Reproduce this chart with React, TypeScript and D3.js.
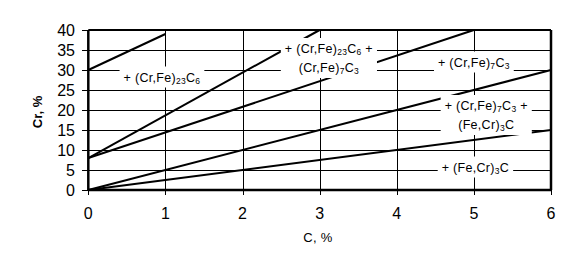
import React, { useEffect, useRef } from "react";
import * as d3 from "d3";

// Boundary lines: C (%) endpoints and Cr (%) endpoints
const lineC: number[][] = [
  [0, 1],
  [0, 3],
  [0, 5],
  [0, 6],
  [0, 6],
];
const lineCr: number[][] = [
  [30, 39],
  [8, 40],
  [8, 40],
  [0, 30],
  [0, 15],
];

const xTicks = [0, 1, 2, 3, 4, 5, 6];
const yTicks = [0, 5, 10, 15, 20, 25, 30, 35, 40];

// Phase-region labels: parts as [text, isSubscript]
type Part = [string, boolean];
const labelLines: Part[][][] = [
  [[["+ (Cr,Fe)", false], ["23", true], ["C", false], ["6", true]]],
  [
    [["+ (Cr,Fe)", false], ["23", true], ["C", false], ["6", true], [" +", false]],
    [["(Cr,Fe)", false], ["7", true], ["C", false], ["3", true]],
  ],
  [[["+ (Cr,Fe)", false], ["7", true], ["C", false], ["3", true]]],
  [
    [["+ (Cr,Fe)", false], ["7", true], ["C", false], ["3", true], [" +", false]],
    [["(Fe,Cr)", false], ["3", true], ["C", false]],
  ],
  [[["+ (Fe,Cr)", false], ["3", true], ["C", false]]],
];
const labelC = [0.955, 3.12, 5.0, 5.16, 5.02];
const labelCr = [28.25, 33, 32, 18.75, 5.75];

const W = 566;
const H = 264;

export default function App() {
  const ref = useRef<SVGSVGElement>(null);

  useEffect(() => {
    const svg = d3.select(ref.current);
    svg.selectAll("*").remove();
    const x = d3.scaleLinear().domain([0, 6]).range([88.3, 551]);
    const y = d3.scaleLinear().domain([0, 40]).range([190, 30]);
    const font = "'Liberation Sans', Arial, sans-serif";

    svg.append("rect").attr("width", W).attr("height", H).attr("fill", "#fff");

    // gridlines
    const g = svg.append("g").attr("stroke", "#000").attr("stroke-width", 1).attr("shape-rendering", "crispEdges");
    xTicks.forEach((t) => {
      g.append("line").attr("x1", Math.round(x(t)) + 0.5).attr("x2", Math.round(x(t)) + 0.5)
        .attr("y1", y(40)).attr("y2", y(0) + 5);
    });
    yTicks.forEach((t) => {
      g.append("line").attr("y1", y(t) + 0.5).attr("y2", y(t) + 0.5)
        .attr("x1", x(0) - 6).attr("x2", x(6));
    });

    // data lines
    const lineGen = d3.line<[number, number]>().x((d) => x(d[0])).y((d) => y(d[1]));
    lineC.forEach((cs, i) => {
      const pts: [number, number][] = cs.map((c, j) => [c, lineCr[i][j]]);
      svg.append("path").attr("d", lineGen(pts)).attr("stroke", "#000").attr("stroke-width", 2).attr("fill", "none");
    });

    // labels with white background
    labelLines.forEach((lines, i) => {
      const cx = x(labelC[i]);
      const cy = y(labelCr[i]);
      const lg = svg.append("g");
      const rect = lg.append("rect").attr("fill", "#fff");
      const n = lines.length;
      const lh = 19;
      const tg = lg.append("g");
      lines.forEach((parts, k) => {
        const ty = cy + (k - (n - 1) / 2) * lh + 4.5;
        const text = tg.append("text").attr("x", cx).attr("y", ty).attr("text-anchor", "middle")
          .attr("font-family", font).attr("font-size", 12.5).attr("letter-spacing", 0.3).attr("fill", "#000");
        parts.forEach(([s, sub], idx) => {
          const prev = idx > 0 ? parts[idx - 1] : null;
          let dy = 0;
          if (sub && !(prev && prev[1])) dy = 2;
          if (!sub && prev && prev[1]) dy = -2;
          const ts = text.append("tspan").text(s).attr("dy", dy);
          if (sub) ts.attr("font-size", 8.5);
        });
      });
      const bb = (tg.node() as SVGGElement).getBBox();
      rect.attr("x", bb.x - 4).attr("y", bb.y - 4).attr("width", bb.width + 8).attr("height", bb.height + 6);
    });

    // frame / axes
    const ax = svg.append("g").attr("stroke", "#000").attr("fill", "none");
    ax.append("line").attr("x1", x(0)).attr("x2", x(6)).attr("y1", y(0)).attr("y2", y(0)).attr("stroke-width", 2.5);
    ax.append("line").attr("x1", x(0)).attr("x2", x(0)).attr("y1", y(0)).attr("y2", y(40)).attr("stroke-width", 2.5);
    ax.append("line").attr("x1", x(0)).attr("x2", x(6)).attr("y1", y(40)).attr("y2", y(40)).attr("stroke-width", 2);
    ax.append("line").attr("x1", x(6)).attr("x2", x(6)).attr("y1", y(0)).attr("y2", y(40)).attr("stroke-width", 2.5);

    // tick labels
    xTicks.forEach((t) => {
      svg.append("text").attr("x", x(t)).attr("y", 219).attr("text-anchor", "middle")
        .attr("font-family", font).attr("font-size", 16).text(String(t));
    });
    yTicks.forEach((t) => {
      svg.append("text").attr("x", 75).attr("y", y(t) + 5.5).attr("text-anchor", "end")
        .attr("font-family", font).attr("font-size", 16).text(String(t));
    });

    svg.append("text").attr("x", 318).attr("y", 241.5).attr("text-anchor", "middle")
      .attr("font-family", font).attr("font-size", 13).attr("letter-spacing", 0.3).text("C, %");
    svg.append("text").attr("transform", "translate(42,112) rotate(-90)").attr("text-anchor", "middle")
      .attr("font-family", font).attr("font-size", 13).attr("font-weight", "bold").text("Cr, %");
  }, []);

  return (
    <svg ref={ref} width={W} height={H} style={{ position: "absolute", left: 0, top: 0, display: "block" }} />
  );
}
